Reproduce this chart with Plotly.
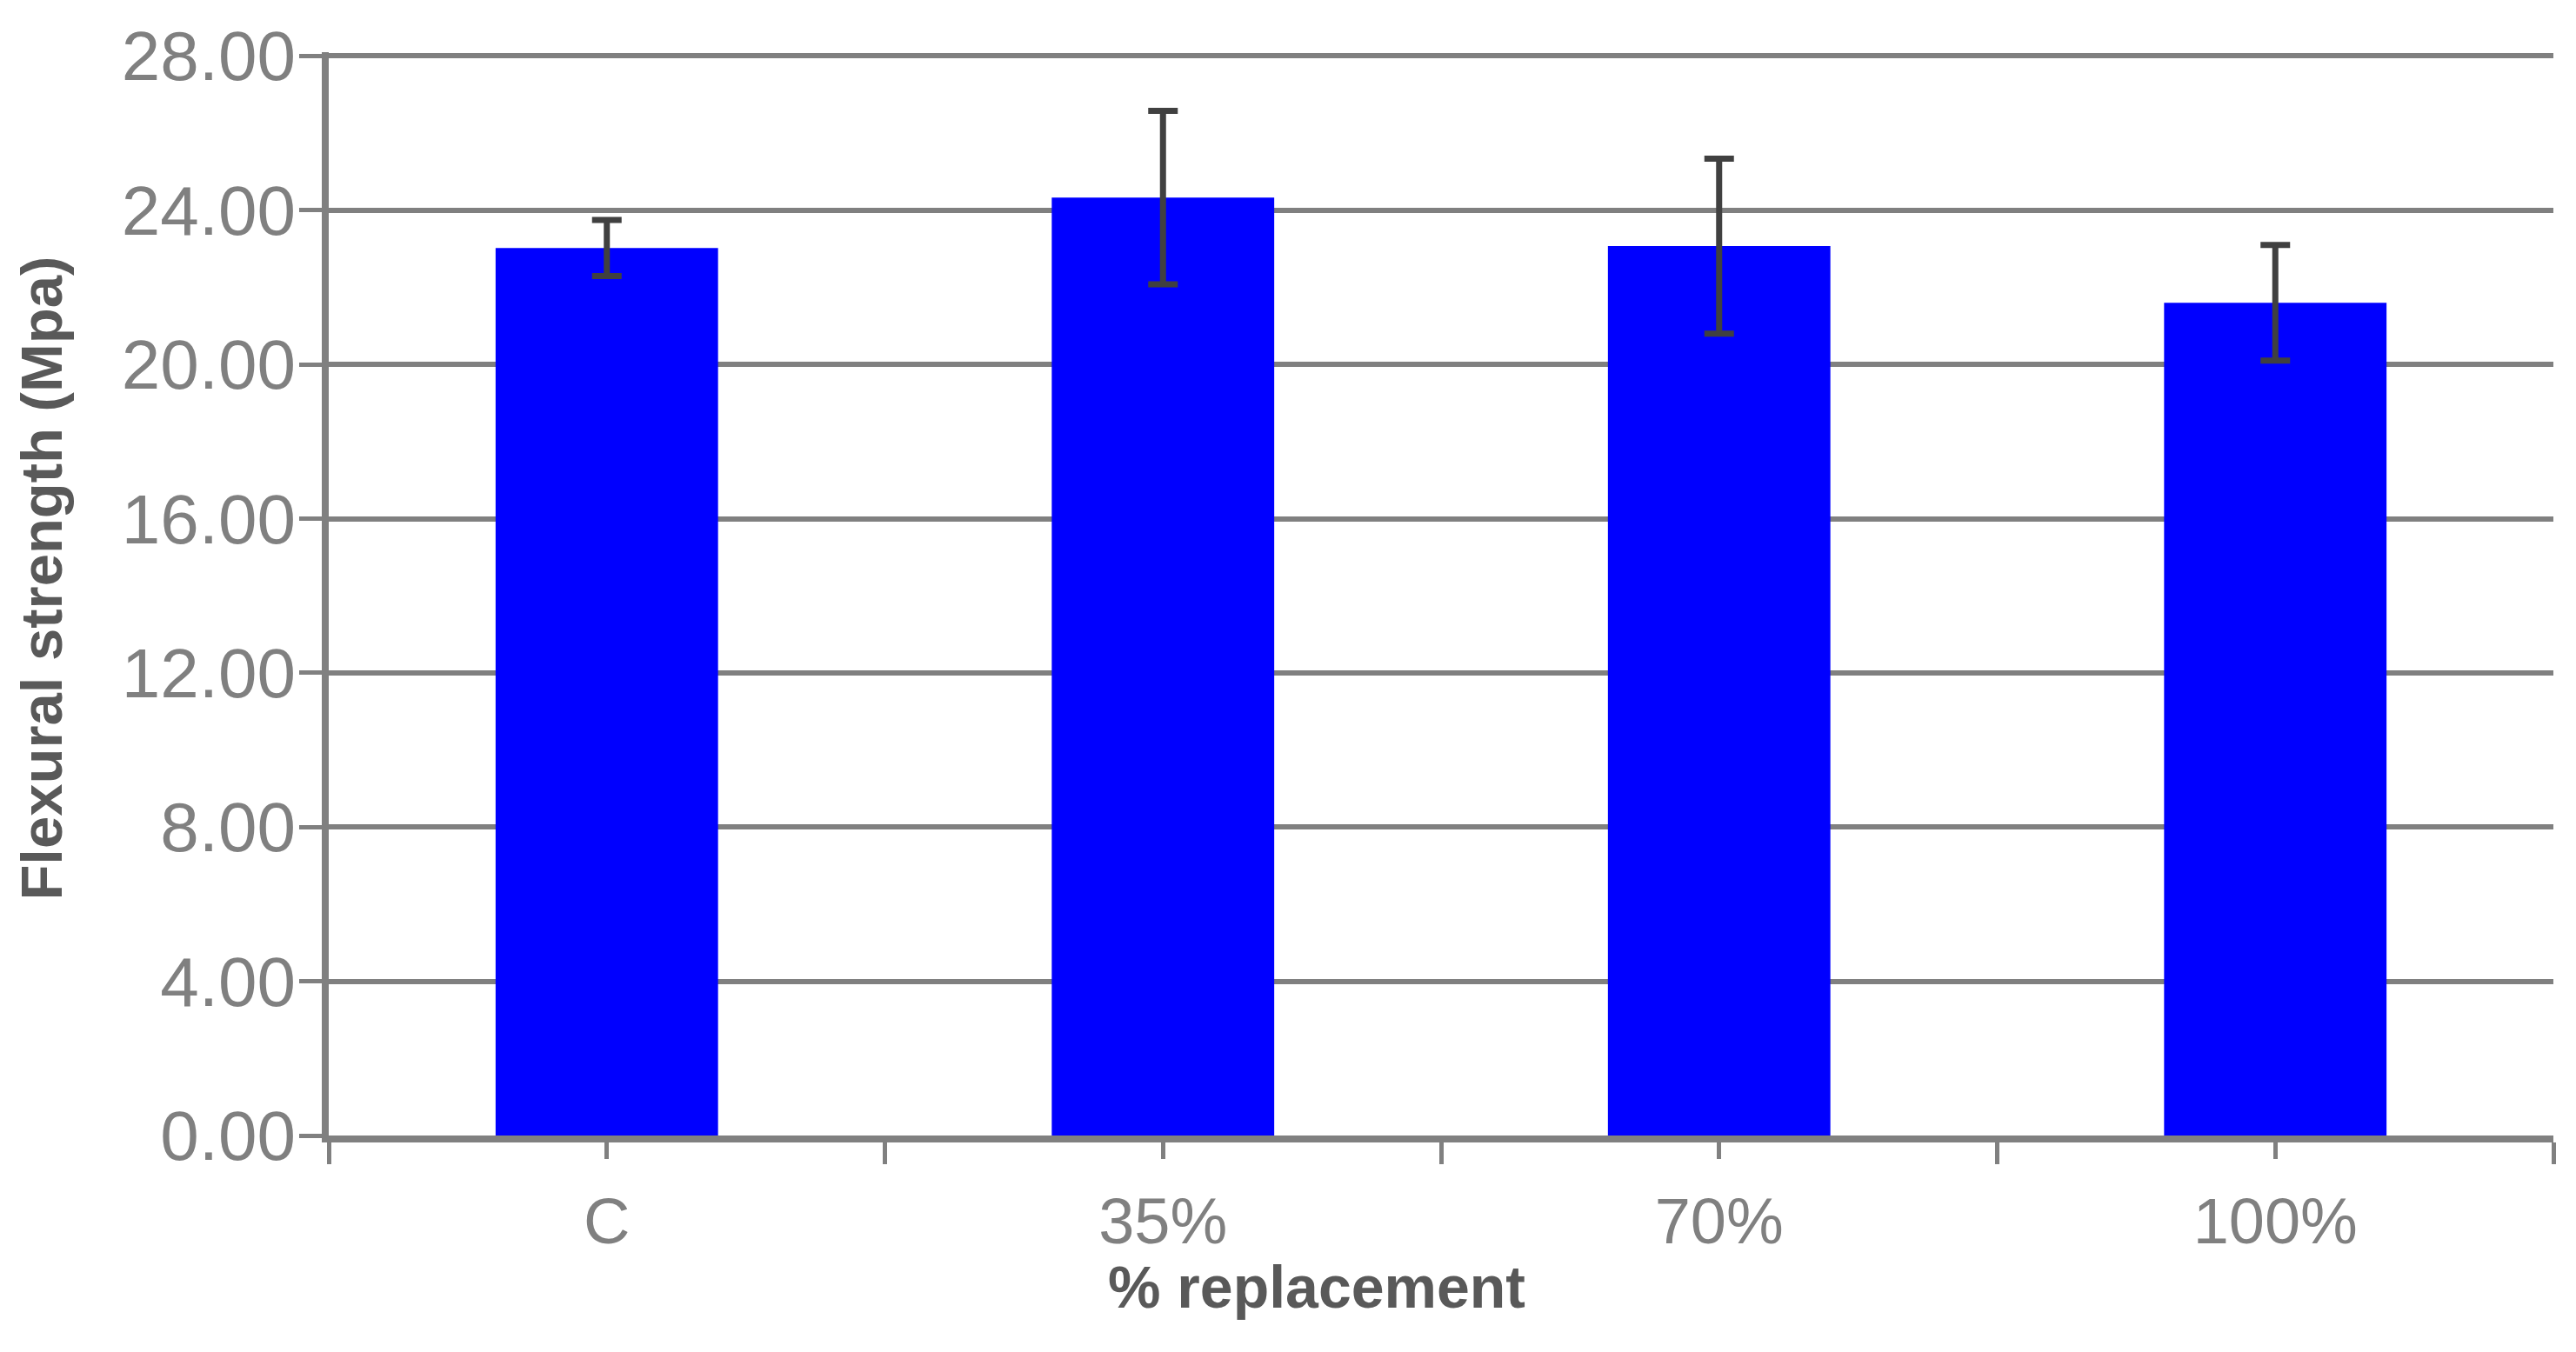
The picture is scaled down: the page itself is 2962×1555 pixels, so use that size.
import plotly.graph_objects as go

categories = ["C", "35%", "70%", "100%"]
strength = [23.02, 24.33, 23.07, 21.60]
errors = [0.73, 2.25, 2.27, 1.50]
y_ticks = [0, 4, 8, 12, 16, 20, 24, 28]

x_pos = list(range(len(categories)))
boundaries = [i - 0.5 for i in range(len(categories) + 1)]

REG = "Liberation Sans, Arial, sans-serif"

fig = go.Figure()
fig.add_trace(go.Bar(
    x=x_pos, y=strength, width=0.4,
    marker=dict(color="#0000FF", line=dict(width=0)),
    error_y=dict(type="data", array=errors, visible=True,
                 color="#404040", thickness=7, width=17),
))

fig.update_layout(
    width=2954, height=1547,
    margin=dict(l=370, r=26, t=48, b=249),
    paper_bgcolor="white", plot_bgcolor="white",
    showlegend=False,
    xaxis=dict(
        range=[-0.5, len(categories) - 0.5],
        tickmode="array", tickvals=x_pos, ticktext=categories,
        ticks="outside", ticklen=19, tickwidth=5, tickcolor="#808080",
        showline=True, linecolor="#808080", linewidth=8,
        showgrid=False, zeroline=False,
        tickfont=dict(family=REG, size=74, color="#808080"),
        ticklabelstandoff=8,
        minor=dict(tickmode="array", tickvals=boundaries, ticks="outside",
                   ticklen=25, tickwidth=5, tickcolor="#808080", showgrid=False),
    ),
    yaxis=dict(
        range=[0, 28.1], tickmode="array", tickvals=y_ticks, tickformat=".2f",
        ticks="outside", ticklen=26, tickwidth=5, tickcolor="#808080",
        showline=True, linecolor="#808080", linewidth=8,
        showgrid=True, gridcolor="#808080", gridwidth=6,
        zeroline=False,
        tickfont=dict(family=REG, size=80, color="#808080"),
        ticklabelstandoff=-12,
    ),
    annotations=[
        dict(text="<b>% replacement</b>", xref="paper", yref="paper",
             x=0.444, y=-0.14, xanchor="center", yanchor="middle",
             showarrow=False, font=dict(family=REG, size=68, color="#595959")),
        dict(text="<b>Flexural strength (Mpa)</b>", xref="paper", yref="paper",
             x=-0.129, y=0.514, xanchor="center", yanchor="middle", textangle=-90,
             showarrow=False, font=dict(family=REG, size=67, color="#595959")),
    ],
)

fig.write_html("out.html")
